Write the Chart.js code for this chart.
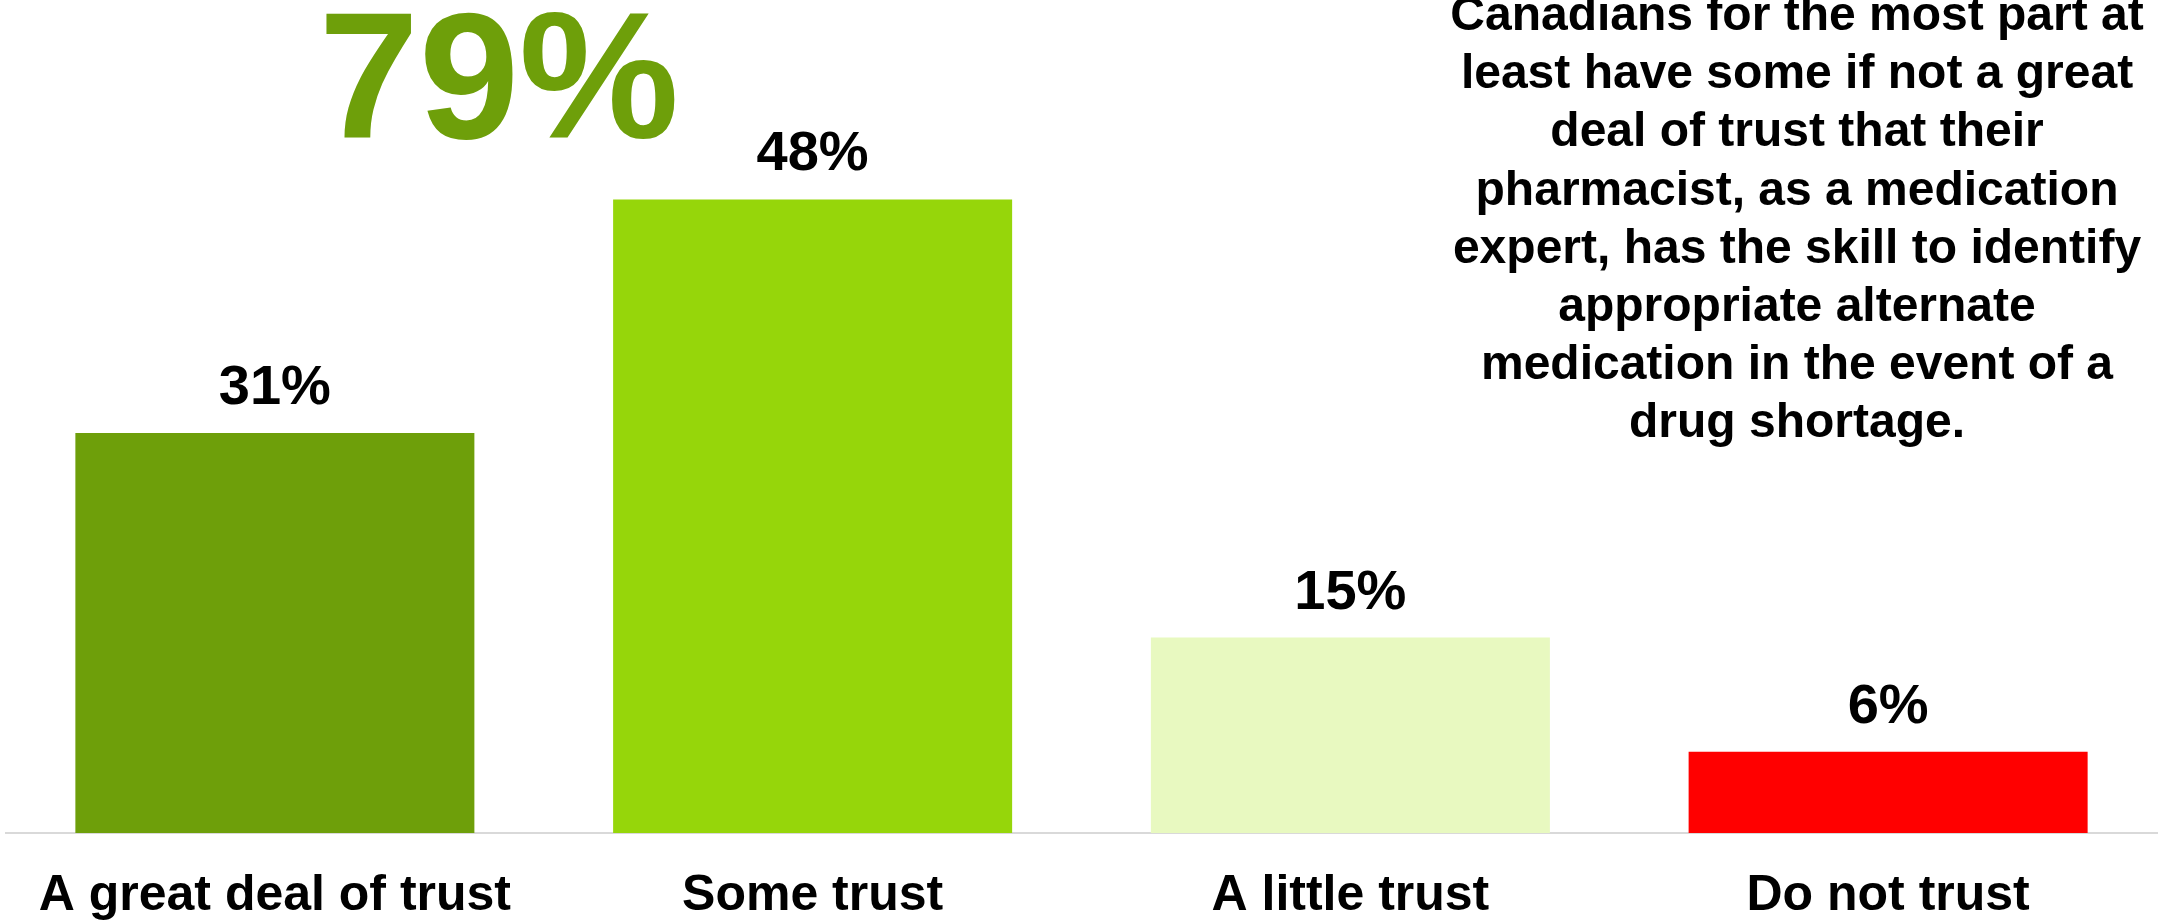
<!DOCTYPE html>
<html>
<head>
<meta charset="utf-8">
<script src="https://cdn.jsdelivr.net/npm/chart.js@4.4.1/dist/chart.umd.min.js"></script>
<style>
  html, body { margin: 0; padding: 0; background: #fff; overflow: hidden; }
  #wrap { width: 2158px; height: 959px; position: relative; }
</style>
</head>
<body>
<div id="wrap"><canvas id="trustChart"></canvas></div>
<script>
var categories = ['A great deal of trust', 'Some trust', 'A little trust', 'Do not trust'];
// bar heights; labels show the rounded percent
var trustValues = [30.5, 48.3, 14.9, 6.2];
var barColors = ['#6e9f0a', '#96d60a', '#e8f9c0', '#ff0000'];
var totalLabel = '79%';
var captionLines = [
  'Canadians for the most part at',
  'least have some if not a great',
  'deal of trust that their',
  'pharmacist, as a medication',
  'expert, has the skill to identify',
  'appropriate alternate',
  'medication in the event of a',
  'drug shortage.'
];

var FONT = '"Liberation Sans", Arial, sans-serif';

// percentage above each bar
var valueLabels = {
  id: 'valueLabels',
  afterDatasetsDraw: function (chart) {
    var ctx = chart.ctx;
    var meta = chart.getDatasetMeta(0);
    ctx.save();
    ctx.font = 'bold 56px ' + FONT;
    ctx.fillStyle = '#000';
    ctx.textAlign = 'center';
    ctx.textBaseline = 'alphabetic';
    meta.data.forEach(function (bar, i) {
      ctx.fillText(Math.round(trustValues[i]) + '%', bar.x, bar.y - 29);
    });
    ctx.restore();
  }
};

// big total and the caption on the right
var annotations = {
  id: 'annotations',
  afterDraw: function (chart) {
    var ctx = chart.ctx;
    ctx.save();
    ctx.textAlign = 'center';
    ctx.textBaseline = 'alphabetic';
    ctx.fillStyle = barColors[0];
    ctx.font = 'bold 180px ' + FONT;
    ctx.fillText(totalLabel, 499, 138);

    ctx.fillStyle = '#000';
    ctx.font = 'bold 48px ' + FONT;
    captionLines.forEach(function (line, i) {
      ctx.fillText(line, 1797, 30 + i * 58.2);
    });
    ctx.restore();
  }
};

var ctx = document.getElementById('trustChart').getContext('2d');
var chart = new Chart(ctx, {
  type: 'bar',
  data: {
    labels: categories,
    datasets: [{
      data: trustValues,
      backgroundColor: barColors,
      borderWidth: 0,
      categoryPercentage: 1,
      barPercentage: 0.742
    }]
  },
  plugins: [valueLabels, annotations],
  options: {
    responsive: true,
    maintainAspectRatio: false,
    animation: false,
    layout: {
      padding: { top: 46, left: 6, right: 1, bottom: 0 }
    },
    plugins: {
      legend: { display: false },
      tooltip: { enabled: false },
      title: { display: false }
    },
    scales: {
      x: {
        grid: { display: false, drawTicks: false },
        border: { display: true, color: '#d9d9d9', width: 2 },
        ticks: {
          color: '#000',
          padding: 33,
          maxRotation: 0,
          autoSkip: false,
          font: { family: FONT, size: 50, weight: 'bold' }
        }
      },
      y: {
        display: false,
        min: 0,
        max: 60
      }
    }
  }
});
</script>
</body>
</html>
